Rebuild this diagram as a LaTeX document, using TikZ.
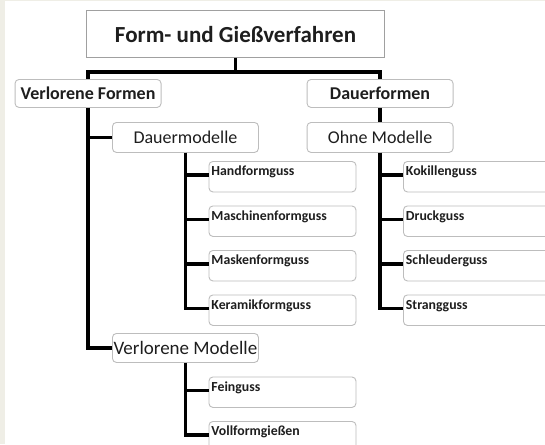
\documentclass[tikz,border=0pt]{standalone}
\usepackage{fontspec}
\setmainfont{Carlito}
\definecolor{beige}{HTML}{EFEEE6}
\definecolor{boxline}{HTML}{BDBDBD}
\definecolor{titleline}{HTML}{A0A0A0}
\definecolor{txt}{HTML}{1E1E1E}
\begin{document}
\begin{tikzpicture}[x=1pt,y=-1pt,
  titlebox/.style={draw=titleline,line width=1.1pt,fill=white,anchor=north west,inner sep=0pt,
    minimum width=298pt,minimum height=46.3pt,text=txt,font=\fontsize{23}{27}\selectfont\bfseries},
  lvlbox/.style={draw=boxline,line width=0.9pt,rounded corners=4pt,fill=white,anchor=north west,
    inner sep=0pt,minimum width=146pt,text=txt},
  leafbox/.style={draw=boxline,line width=0.9pt,rounded corners=4pt,fill=white,anchor=north west,
    inner ysep=0pt,inner xsep=2.5pt,text width=142pt,align=left,text height=14.5pt,text depth=16pt,
    text=txt,font=\fontsize{13.8}{15}\selectfont\bfseries},
  conn/.style={draw=black,line width=3.5pt}]
\clip (0,0) rectangle (545,444);
\fill[white] (0,0) rectangle (545,444);
\fill[beige] (0,0) rectangle (5,444);
\fill[beige] (0,0) rectangle (545,1.5);

\node[titlebox] (title) at (86,10.4) {Form- und Gießverfahren};
\node[lvlbox,minimum height=28pt,font=\fontsize{18}{21}\selectfont\bfseries] (vf) at (14.6,79) {Verlorene Formen};
\node[lvlbox,minimum height=28pt,font=\fontsize{18}{21}\selectfont\bfseries] (df) at (306.6,79) {Dauerformen};
\node[lvlbox,minimum height=30pt,font=\fontsize{18}{21}\selectfont] (dm) at (112,122) {Dauermodelle};
\node[lvlbox,minimum height=30pt,font=\fontsize{18}{21}\selectfont] (om) at (306.6,122) {Ohne Modelle};
\node[lvlbox,minimum height=29pt,font=\fontsize{19}{22}\selectfont] (vm) at (112,333) {Verlorene Modelle};

\node[leafbox] (hf) at (208.5,161) {Handformguss};
\node[leafbox] (mf) at (208.5,205.5) {Maschinenformguss};
\node[leafbox] (mk) at (208.5,250) {Maskenformguss};
\node[leafbox] (kf) at (208.5,294.5) {Keramikformguss};
\node[leafbox] (ko) at (403,161) {Kokillenguss};
\node[leafbox] (dg) at (403,205.5) {Druckguss};
\node[leafbox] (sg) at (403,250) {Schleuderguss};
\node[leafbox] (st) at (403,294.5) {Strangguss};
\node[leafbox] (fg) at (208.5,376.5) {Feinguss};
\node[leafbox] (vg) at (208.5,421) {Vollformgießen};

\coordinate (bar) at ([yshift=-14.3pt]title.south);
\draw[conn] (title.south) -- (bar);
\draw[conn] (bar) -| (vf.north);
\draw[conn] (bar) -| (df.north);
\draw[conn] (vf.south) |- (dm.west);
\draw[conn] (vf.south) |- (vm.west);
\draw[conn] (df.south) -- (om.north);
\foreach \c in {hf,mf,mk,kf}{\draw[conn] (dm.south) |- ([yshift=-14pt]\c.north west);}
\foreach \c in {ko,dg,sg,st}{\draw[conn] (om.south) |- ([yshift=-14pt]\c.north west);}
\foreach \c in {fg,vg}{\draw[conn] (vm.south) |- ([yshift=-14pt]\c.north west);}
\end{tikzpicture}
\end{document}
